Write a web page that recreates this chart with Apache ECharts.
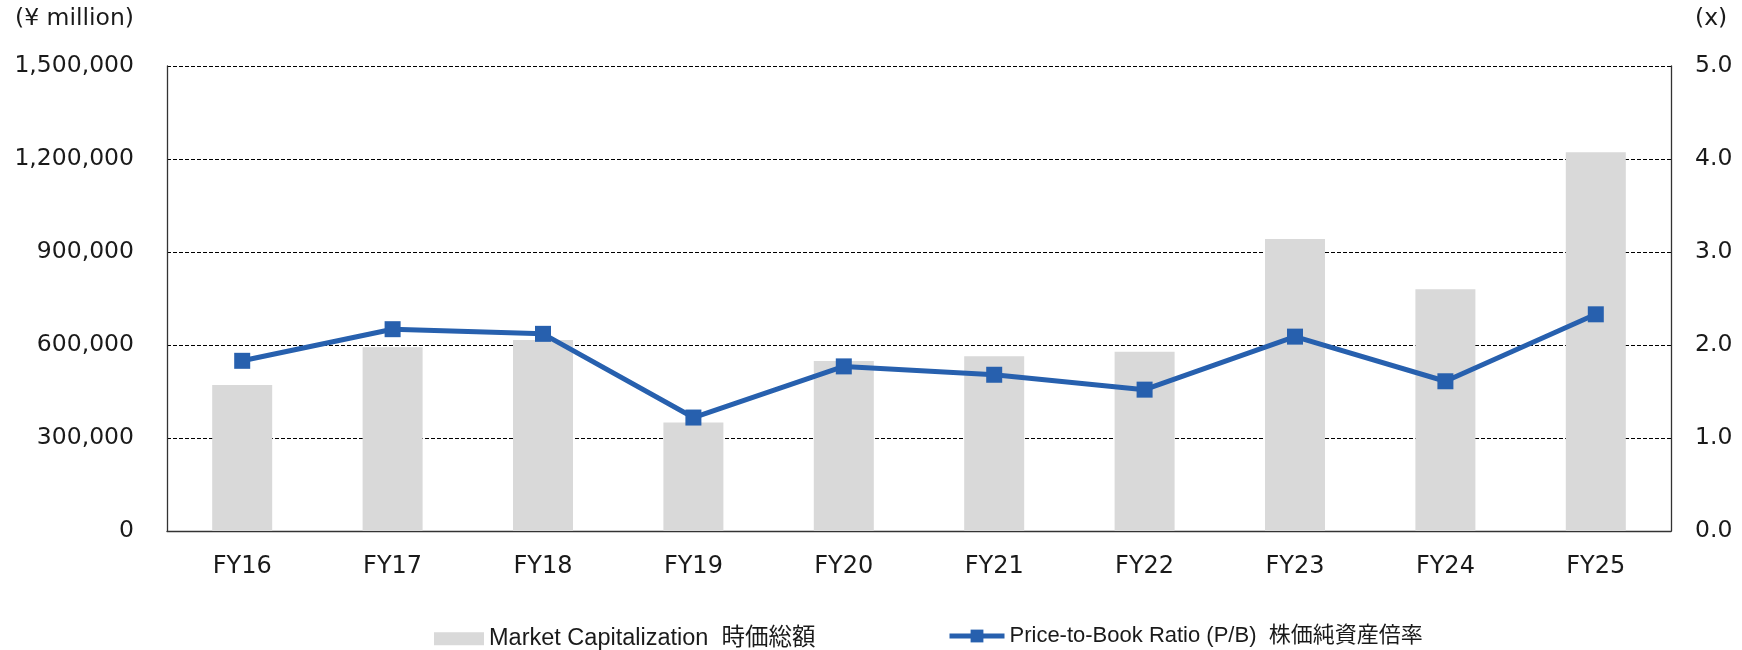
<!DOCTYPE html>
<html>
<head>
<meta charset="utf-8">
<title>Market Capitalization / PBR</title>
<script src="https://cdn.jsdelivr.net/npm/echarts@6/dist/echarts.min.js"></script>
<style>
  html, body { margin: 0; padding: 0; background: #fff; }
  #myChart { width: 1742px; height: 650px; }
</style>
</head>
<body>
<div id="myChart"></div>
<script>
// data
var years = ['FY16', 'FY17', 'FY18', 'FY19', 'FY20', 'FY21', 'FY22', 'FY23', 'FY24', 'FY25'];
var marketCap = [471000, 593000, 616000, 350000, 548000, 564000, 578000, 942000, 780000, 1222000];
var pbr = [1.83, 2.17, 2.12, 1.22, 1.77, 1.68, 1.52, 2.09, 1.61, 2.33];

var capName = 'Market Capitalization  時価総額';
var pbrName = 'Price-to-Book Ratio (P/B)  株価純資産倍率';

var axisFont = 'DejaVu Sans';
var legendFont = "'Liberation Sans', 'Noto Sans CJK JP'";
var textColor = '#1a1a1a';
var blue = '#2760ae';

var myChart = echarts.init(document.getElementById('myChart'));

var option = {
    animation: false,
    grid: {
        left: 167,
        right: 71,
        top: 66,
        bottom: 119
    },
    legend: [
        {
            data: [{ name: capName, icon: 'rect' }],
            left: 429,
            top: 622,
            itemWidth: 50,
            itemHeight: 13,
            textStyle: { fontFamily: legendFont, fontSize: 23.5, color: textColor }
        },
        {
            data: [pbrName],
            left: 942,
            top: 620,
            itemWidth: 55,
            itemHeight: 16,
            lineStyle: { width: 5 },
            textStyle: { fontFamily: legendFont, fontSize: 22, color: textColor }
        }
    ],
    xAxis: {
        type: 'category',
        data: years,
        axisTick: { show: false },
        axisLine: { lineStyle: { color: '#333', width: 1.3 } },
        axisLabel: {
            margin: 24,
            fontFamily: axisFont,
            fontSize: 24,
            color: textColor
        }
    },
    yAxis: [
        {
            type: 'value',
            min: 0,
            max: 1500000,
            interval: 300000,
            name: '(¥ million)',
            nameGap: 35,
            nameTextStyle: {
                fontFamily: axisFont,
                fontSize: 23.5,
                color: textColor,
                align: 'right',
                padding: [0, 33, 0, 0]
            },
            axisLine: { show: true, lineStyle: { color: '#333', width: 1.3 } },
            axisTick: { show: false },
            axisLabel: {
                margin: 33,
                fontFamily: axisFont,
                fontSize: 23.5,
                color: textColor,
                formatter: function (v) { return v.toLocaleString('en-US'); }
            },
            splitLine: { lineStyle: { color: '#000', type: [4, 2], width: 1 } }
        },
        {
            type: 'value',
            min: 0,
            max: 5,
            interval: 1,
            name: '(x)',
            nameGap: 35,
            nameTextStyle: {
                fontFamily: axisFont,
                fontSize: 23.5,
                color: textColor,
                align: 'left',
                padding: [0, 0, 0, 24]
            },
            axisLine: { show: true, lineStyle: { color: '#333', width: 1.3 } },
            axisTick: { show: false },
            axisLabel: {
                margin: 24,
                fontFamily: axisFont,
                fontSize: 23.5,
                color: textColor,
                formatter: function (v) { return v.toFixed(1); }
            },
            splitLine: { show: false }
        }
    ],
    series: [
        {
            name: capName,
            type: 'bar',
            data: marketCap,
            barWidth: 60,
            itemStyle: { color: '#d9d9d9' }
        },
        {
            name: pbrName,
            type: 'line',
            yAxisIndex: 1,
            data: pbr,
            symbol: 'rect',
            symbolSize: 16,
            lineStyle: { color: blue, width: 5 },
            itemStyle: { color: blue }
        }
    ]
};

myChart.setOption(option);
</script>
</body>
</html>
